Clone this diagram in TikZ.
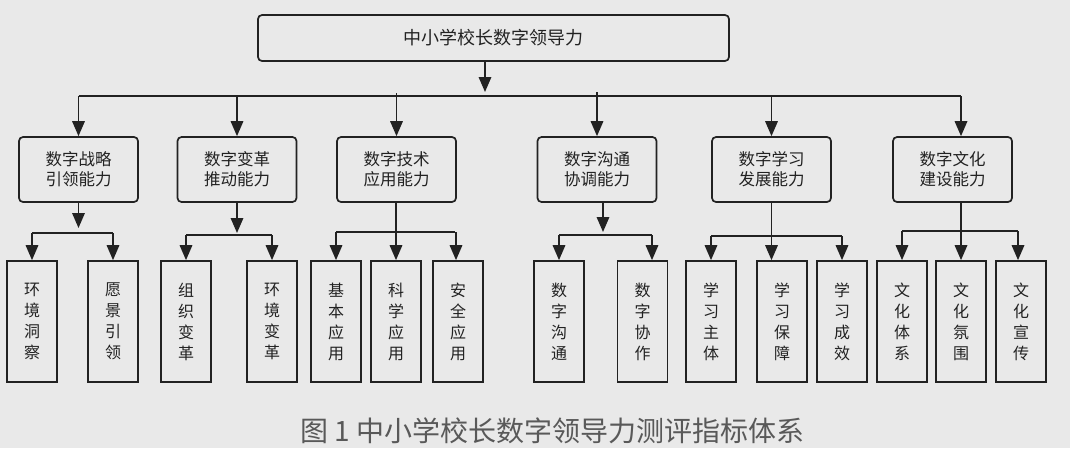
\documentclass[tikz,border=0pt]{standalone}
\usepackage{fontspec}
\setmainfont{Noto Sans CJK SC}
\usepackage{tikz}
\usetikzlibrary{arrows.meta,positioning,calc}
\usepackage{xcolor}
\definecolor{bgcol}{HTML}{E9E9E9}
\definecolor{ink}{HTML}{222222}

\begin{document}
\begin{tikzpicture}[x=1pt,y=-1pt,line width=1.7pt,draw=ink,
  arr/.style={-{Triangle[length=15pt,width=12.5pt]},draw=ink,fill=ink},
  topbox/.style={draw=ink,rounded corners=4pt,minimum width=471pt,minimum height=46pt,font=\fontsize{18}{22}\selectfont,text=ink},
  midbox/.style={draw=ink,rounded corners=4pt,minimum width=119pt,minimum height=65pt,align=center,font=\fontsize{16.5}{20}\selectfont,text=ink},
  leafbox/.style={draw=ink,minimum width=50pt,minimum height=121pt,align=center,font=\fontsize{16}{21}\selectfont,text=ink}]
\fill[bgcol] (0,0) rectangle (1070,448);
\useasboundingbox (0,0) rectangle (1070,448);
% top level
\node[topbox] (top) at (493.5,38) {中小学校长数字领导力};
% second level
\node[midbox] (s1) at (78.5,169.5) {数字战略\\引领能力};
\node[midbox] (s2) at (237,169.5) {数字变革\\推动能力};
\node[midbox] (s3) at (396.5,169.5) {数字技术\\应用能力};
\node[midbox] (s4) at (597,169.5) {数字沟通\\协调能力};
\node[midbox] (s5) at (771.5,169.5) {数字学习\\发展能力};
\node[midbox] (s6) at (952.5,169.5) {数字文化\\建设能力};
% leaves
\node[leafbox] (l1) at (32,321.5) {环\\境\\洞\\察};
\node[leafbox] (l2) at (113,321.5) {愿\\景\\引\\领};
\node[leafbox] (l3) at (186,321.5) {组\\织\\变\\革};
\node[leafbox] (l4) at (272,321.5) {环\\境\\变\\革};
\node[leafbox] (l5) at (336,321.5) {基\\本\\应\\用};
\node[leafbox] (l6) at (396,321.5) {科\\学\\应\\用};
\node[leafbox] (l7) at (458,321.5) {安\\全\\应\\用};
\node[leafbox] (l8) at (559,321.5) {数\\字\\沟\\通};
\node[leafbox] (l9) at (642.5,321.5) {数\\字\\协\\作};
\node[leafbox] (l10) at (711,321.5) {学\\习\\主\\体};
\node[leafbox] (l11) at (782,321.5) {学\\习\\保\\障};
\node[leafbox] (l12) at (842,321.5) {学\\习\\成\\效};
\node[leafbox] (l13) at (902,321.5) {文\\化\\体\\系};
\node[leafbox] (l14) at (961,321.5) {文\\化\\氛\\围};
\node[leafbox] (l15) at (1021,321.5) {文\\化\\宣\\传};
% caption
\node[font=\fontsize{28}{32}\selectfont,text=ink!75] (cap) at (552.5,431) {图 1 中小学校长数字领导力测评指标体系};

% top to second level
\coordinate (bus) at (485,96);
\coordinate (busl) at (78.5,96);
\coordinate (busr) at (961,96);
\draw[arr] ([xshift=-8.5pt]top.south) -- ([yshift=4pt]bus);
\draw (busl) -- (busr);
\draw[arr] (busl) -- (s1.north);
\draw[arr] (s2.north |- busl) -- (s2.north);
\draw[arr] ([yshift=3pt]s3.north |- busl) -- (s3.north);
\draw[arr] ([yshift=4pt]s4.north |- busl) -- (s4.north);
\draw[arr] (s5.north |- busl) -- (s5.north);
\draw[arr] (busr) -- (busr |- s6.north);

% second level to leaves
\coordinate (ja) at (78.5,233);
\draw[arr] (s1.south) -- ([yshift=5pt]ja);
\draw (l1.north |- ja) -- (l2.north |- ja);
\draw[arr] (l1.north |- ja) -- (l1.north);
\draw[arr] (l2.north |- ja) -- (l2.north);

\coordinate (jb) at (237,235);
\draw[arr] (s2.south) -- ([yshift=2pt]jb);
\draw (l3.north |- jb) -- (l4.north |- jb);
\draw[arr] (l3.north |- jb) -- (l3.north);
\draw[arr] (l4.north |- jb) -- (l4.north);

\coordinate (jc) at (455,232);
\draw[arr] (l6.north |- s3.south) -- (l6.north);
\draw (l5.north |- jc) -- (jc);
\draw[arr] (l5.north |- jc) -- (l5.north);
\draw[arr] ([xshift=-2pt]l7.north |- jc) -- ([xshift=-2pt]l7.north);

\coordinate (jd) at (603,235);
\draw[arr] ([xshift=6pt]s4.south) -- ([yshift=3pt]jd);
\draw (l8.north |- jd) -- ([xshift=9.5pt]l9.north |- jd);
\draw[arr] (l8.north |- jd) -- (l8.north);
\draw[arr] ([xshift=9.5pt]l9.north |- jd) -- ([xshift=9.5pt]l9.north);

\coordinate (je) at (771.5,236);
\draw[arr] (s5.south) -- (s5.south |- l11.north);
\draw (l10.north |- je) -- (l12.north |- je);
\draw[arr] (l10.north |- je) -- (l10.north);
\draw[arr] (l12.north |- je) -- (l12.north);

\coordinate (jf) at (961,231);
\draw[arr] (l14.north |- s6.south) -- (l14.north);
\draw (l13.north |- jf) -- ([xshift=-3pt]l15.north |- jf);
\draw[arr] (l13.north |- jf) -- (l13.north);
\draw[arr] ([xshift=-3pt]l15.north |- jf) -- ([xshift=-3pt]l15.north);
\end{tikzpicture}
\end{document}
